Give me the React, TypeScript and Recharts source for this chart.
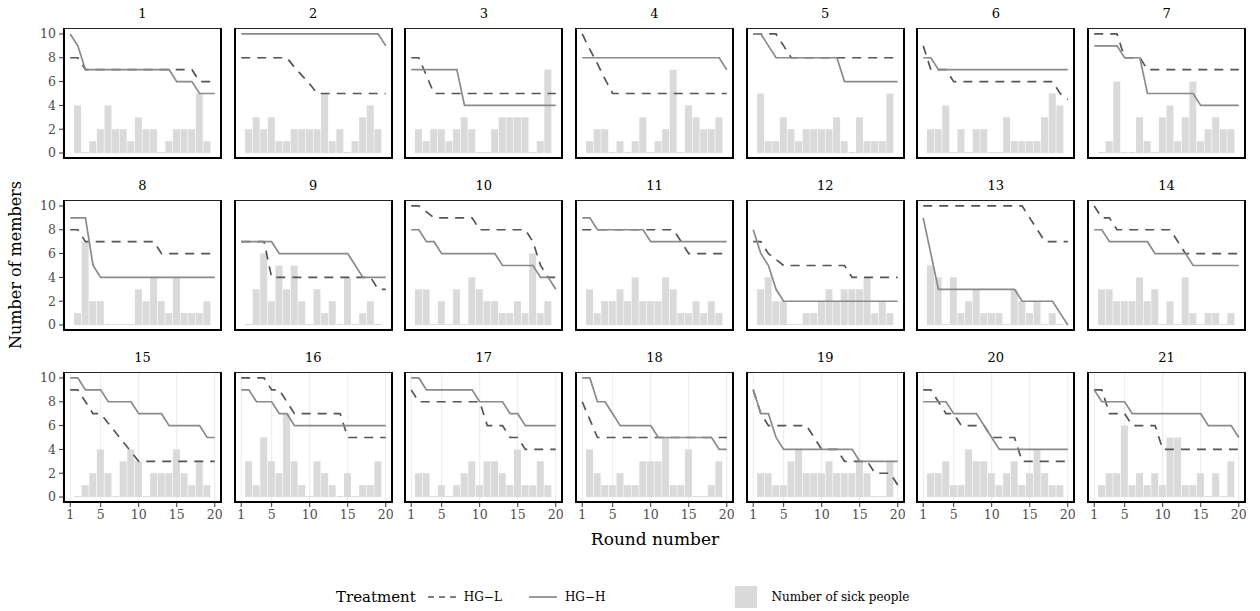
import React from 'react'
import { ComposedChart, Bar, Line, XAxis, YAxis, CartesianGrid } from 'recharts'

const FONT = '"DejaVu Serif", "Liberation Serif", serif'

const groups = ['1', '2', '3', '4', '5', '6', '7', '8', '9', '10', '11', '12', '13', '14', '15', '16', '17', '18', '19', '20', '21']
const rounds = [1, 2, 3, 4, 5, 6, 7, 8, 9, 10, 11, 12, 13, 14, 15, 16, 17, 18, 19, 20]
const xTicks = [1, 5, 10, 15, 20]
const yTicks = [0, 2, 4, 6, 8, 10]
const seriesNames = ['HG\u2212L', 'HG\u2212H']
const barName = 'Number of sick people'

// HG-L treatment (dashed), rounds 1-20
const hgLow: number[][] = [
  [8, 8, 7, 7, 7, 7, 7, 7, 7, 7, 7, 7, 7, 7, 7, 7, 7, 6, 6, 6],
  [8, 8, 8, 8, 8, 8, 8, 7.2, 6.5, 5.8, 5, 5, 5, 5, 5, 5, 5, 5, 5, 5],
  [8, 8, 6.5, 5, 5, 5, 5, 5, 5, 5, 5, 5, 5, 5, 5, 5, 5, 5, 5, 5],
  [10, 8.7, 7.5, 6.2, 5, 5, 5, 5, 5, 5, 5, 5, 5, 5, 5, 5, 5, 5, 5, 5],
  [10, 10, 10, 10, 9, 8, 8, 8, 8, 8, 8, 8, 8, 8, 8, 8, 8, 8, 8, 8],
  [9, 7, 7, 7, 6, 6, 6, 6, 6, 6, 6, 6, 6, 6, 6, 6, 6, 6, 5, 4.5],
  [10, 10, 10, 10, 8, 8, 8, 7, 7, 7, 7, 7, 7, 7, 7, 7, 7, 7, 7, 7],
  [8, 8, 7, 7, 7, 7, 7, 7, 7, 7, 7, 7, 6, 6, 6, 6, 6, 6, 6, 6],
  [7, 7, 7, 7, 4, 4, 4, 4, 4, 4, 4, 4, 4, 4, 4, 4, 4, 4, 3, 3],
  [10, 10, 9.5, 9, 9, 9, 9, 9, 9, 8, 8, 8, 8, 8, 8, 8, 7, 5, 4, 4],
  [8, 8, 8, 8, 8, 8, 8, 8, 8, 8, 8, 8, 8, 7, 6, 6, 6, 6, 6, 6],
  [7, 7, 6, 5.5, 5, 5, 5, 5, 5, 5, 5, 5, 5, 4, 4, 4, 4, 4, 4, 4],
  [10, 10, 10, 10, 10, 10, 10, 10, 10, 10, 10, 10, 10, 10, 9, 8, 7, 7, 7, 7],
  [10, 9, 9, 8, 8, 8, 8, 8, 8, 8, 8, 7, 6, 6, 6, 6, 6, 6, 6, 6],
  [9, 9, 8, 7, 7, 6.2, 5.4, 4.6, 3.8, 3, 3, 3, 3, 3, 3, 3, 3, 3, 3, 3],
  [10, 10, 10, 10, 9, 9, 8, 7, 7, 7, 7, 7, 7, 7, 5, 5, 5, 5, 5, 5],
  [9, 8, 8, 8, 8, 8, 8, 8, 8, 8, 6, 6, 6, 5, 5, 4, 4, 4, 4, 4],
  [8, 6.5, 5, 5, 5, 5, 5, 5, 5, 5, 5, 5, 5, 5, 5, 5, 5, 5, 5, 5],
  [9, 7, 6, 6, 6, 6, 6, 6, 5, 4, 4, 4, 3, 3, 3, 3, 2, 2, 2, 1],
  [9, 9, 8, 7, 7, 6, 6, 6, 6, 5, 5, 5, 5, 3, 3, 3, 3, 3, 3, 3],
  [9, 9, 7, 7, 7, 6, 6, 6, 6, 4, 4, 4, 4, 4, 4, 4, 4, 4, 4, 4],
]

// HG-H treatment (solid), rounds 1-20
const hgHigh: number[][] = [
  [10, 9, 7, 7, 7, 7, 7, 7, 7, 7, 7, 7, 7, 7, 6, 6, 6, 5, 5, 5],
  [10, 10, 10, 10, 10, 10, 10, 10, 10, 10, 10, 10, 10, 10, 10, 10, 10, 10, 10, 9],
  [7, 7, 7, 7, 7, 7, 7, 4, 4, 4, 4, 4, 4, 4, 4, 4, 4, 4, 4, 4],
  [8, 8, 8, 8, 8, 8, 8, 8, 8, 8, 8, 8, 8, 8, 8, 8, 8, 8, 8, 7],
  [10, 10, 9, 8, 8, 8, 8, 8, 8, 8, 8, 8, 6, 6, 6, 6, 6, 6, 6, 6],
  [8, 8, 7, 7, 7, 7, 7, 7, 7, 7, 7, 7, 7, 7, 7, 7, 7, 7, 7, 7],
  [9, 9, 9, 9, 8, 8, 8, 5, 5, 5, 5, 5, 5, 5, 4, 4, 4, 4, 4, 4],
  [9, 9, 9, 5, 4, 4, 4, 4, 4, 4, 4, 4, 4, 4, 4, 4, 4, 4, 4, 4],
  [7, 7, 7, 7, 7, 6, 6, 6, 6, 6, 6, 6, 6, 6, 6, 5, 4, 4, 4, 4],
  [8, 8, 7, 7, 6, 6, 6, 6, 6, 6, 6, 6, 5, 5, 5, 5, 5, 4, 4, 3],
  [9, 9, 8, 8, 8, 8, 8, 8, 8, 7, 7, 7, 7, 7, 7, 7, 7, 7, 7, 7],
  [8, 6, 5, 3, 2, 2, 2, 2, 2, 2, 2, 2, 2, 2, 2, 2, 2, 2, 2, 2],
  [9, 6, 3, 3, 3, 3, 3, 3, 3, 3, 3, 3, 3, 2, 2, 2, 2, 2, 1, 0],
  [8, 8, 7, 7, 7, 7, 7, 7, 6, 6, 6, 6, 6, 5, 5, 5, 5, 5, 5, 5],
  [10, 10, 9, 9, 9, 8, 8, 8, 8, 7, 7, 7, 7, 6, 6, 6, 6, 6, 5, 5],
  [9, 9, 8, 8, 8, 7, 7, 6, 6, 6, 6, 6, 6, 6, 6, 6, 6, 6, 6, 6],
  [10, 10, 9, 9, 9, 9, 9, 9, 9, 8, 8, 8, 8, 7, 7, 6, 6, 6, 6, 6],
  [10, 10, 8, 8, 7, 6, 6, 6, 6, 6, 5, 5, 5, 5, 5, 5, 5, 5, 4, 4],
  [9, 7, 7, 5, 4, 4, 4, 4, 4, 4, 4, 4, 4, 4, 3, 3, 3, 3, 3, 3],
  [8, 8, 8, 8, 7, 7, 7, 7, 6, 5, 4, 4, 4, 4, 4, 4, 4, 4, 4, 4],
  [9, 8, 8, 8, 8, 7, 7, 7, 7, 7, 7, 7, 7, 7, 7, 6, 6, 6, 6, 5],
]

// number of sick people, rounds 2-19
const sickPeople: number[][] = [
  [4, 0, 1, 2, 4, 2, 2, 1, 3, 2, 2, 0, 1, 2, 2, 2, 5, 1],
  [2, 3, 2, 3, 1, 1, 2, 2, 2, 2, 5, 1, 2, 0, 1, 3, 4, 2],
  [2, 1, 2, 2, 1, 2, 3, 2, 0, 0, 2, 3, 3, 3, 3, 0, 1, 7],
  [1, 2, 2, 0, 1, 0, 1, 3, 0, 1, 2, 7, 0, 4, 3, 2, 2, 3],
  [5, 1, 1, 3, 2, 1, 2, 2, 2, 2, 3, 1, 0, 3, 1, 1, 1, 5],
  [2, 2, 4, 0, 2, 0, 2, 2, 0, 0, 3, 1, 1, 1, 1, 3, 5, 4],
  [0, 1, 6, 0, 0, 3, 1, 0, 3, 4, 1, 3, 6, 1, 2, 3, 2, 2],
  [1, 7, 2, 2, 0, 0, 0, 0, 3, 2, 4, 2, 1, 4, 1, 1, 1, 2],
  [0, 3, 6, 2, 5, 3, 5, 2, 0, 3, 1, 2, 0, 4, 0, 1, 2, 0],
  [3, 3, 0, 2, 0, 3, 0, 4, 3, 2, 2, 1, 1, 2, 1, 6, 1, 2],
  [3, 1, 2, 2, 3, 2, 4, 2, 2, 2, 4, 3, 1, 1, 2, 1, 2, 1],
  [3, 4, 2, 2, 0, 0, 1, 1, 2, 3, 2, 3, 3, 3, 4, 1, 2, 1],
  [5, 4, 0, 4, 1, 2, 3, 1, 1, 1, 0, 3, 2, 1, 2, 0, 1, 0],
  [3, 3, 2, 2, 2, 4, 2, 3, 0, 2, 0, 4, 1, 0, 1, 1, 0, 1],
  [0, 1, 2, 4, 2, 0, 3, 4, 3, 0, 2, 2, 2, 4, 2, 1, 3, 1],
  [3, 1, 5, 3, 2, 7, 3, 1, 0, 3, 2, 1, 0, 2, 0, 1, 1, 3],
  [2, 2, 0, 1, 0, 1, 2, 3, 1, 3, 3, 2, 1, 4, 1, 1, 3, 1],
  [4, 2, 1, 1, 2, 1, 1, 3, 3, 3, 5, 1, 1, 4, 0, 0, 1, 3],
  [2, 2, 1, 1, 3, 4, 2, 2, 2, 3, 2, 2, 2, 3, 2, 0, 0, 3],
  [2, 2, 3, 1, 1, 4, 3, 3, 2, 1, 2, 3, 1, 2, 4, 2, 1, 1],
  [1, 2, 2, 6, 1, 2, 1, 2, 1, 5, 5, 1, 1, 2, 0, 2, 0, 3],
]

const COLS = 7
const BOX_W = 159
const BOX_H = 131
const PITCH_X = 170.67
const PITCH_Y = 172
const LEFT0 = 63
const TOP0 = 28
const Y_AXIS_W = 46
const X_AXIS_H = 24
const PAD = 8 // room above the plot for the top tick label

const SOLID = '#8a8a8a'
const DASHED = '#555555'
const BAR = '#dadada'
const DASH = '9 7'

const tickStyle = { fontSize: 12.5, fill: '#4d4d4d', fontFamily: FONT }

function Panel({ index }: { index: number }) {
  const col = index % COLS
  const row = Math.floor(index / COLS)
  const firstCol = col === 0
  const lastRow = row === 2
  const data = rounds.map((r, i) => ({
    round: r,
    low: hgLow[index][i],
    high: hgHigh[index][i],
    sick: i >= 1 && i <= 18 ? sickPeople[index][i - 1] : null,
  }))
  const boxLeft = LEFT0 + col * PITCH_X
  const boxTop = TOP0 + row * PITCH_Y
  const w = BOX_W + (firstCol ? Y_AXIS_W : 0)
  const h = BOX_H + PAD + (lastRow ? X_AXIS_H : 0)

  return (
    <>
      <div
        style={{
          position: 'absolute',
          left: boxLeft,
          top: boxTop - 24,
          width: BOX_W,
          textAlign: 'center',
          fontSize: 13,
          color: '#000',
          lineHeight: '20px',
        }}
      >
        {groups[index]}
      </div>
      <div style={{ position: 'absolute', left: boxLeft - (firstCol ? Y_AXIS_W : 0), top: boxTop - PAD, width: w, height: h }}>
        <ComposedChart width={w} height={h} data={data} margin={{ top: PAD, right: 0, bottom: 0, left: 0 }}>
          <CartesianGrid horizontal={false} stroke="#ebebeb" strokeWidth={1} />
          <XAxis
            dataKey="round"
            type="number"
            domain={[0.05, 20.95]}
            ticks={xTicks}
            interval={0}
            allowDataOverflow
            height={lastRow ? X_AXIS_H : 0}
            tick={lastRow ? tickStyle : false}
            tickLine={lastRow ? { stroke: '#333' } : false}
            tickSize={4}
            tickMargin={3}
            axisLine={false}
          />
          <YAxis
            type="number"
            domain={[-0.5, 10.5]}
            ticks={yTicks}
            interval={0}
            allowDataOverflow
            width={firstCol ? Y_AXIS_W : 0}
            tick={firstCol ? tickStyle : false}
            tickLine={firstCol ? { stroke: '#333' } : false}
            tickSize={4}
            tickMargin={3}
            axisLine={false}
          />
          <Bar
            dataKey="sick"
            fill={BAR}
            barSize={7}
            isAnimationActive={false}
            minPointSize={(v: any) => (v === 0 ? 1 : 0)}
          />
          <Line
            dataKey="low"
            type="linear"
            stroke={DASHED}
            strokeWidth={1.7}
            strokeDasharray={DASH}
            dot={false}
            activeDot={false}
            isAnimationActive={false}
          />
          <Line
            dataKey="high"
            type="linear"
            stroke={SOLID}
            strokeWidth={1.7}
            dot={false}
            activeDot={false}
            isAnimationActive={false}
          />
        </ComposedChart>
      </div>
      <div
        style={{
          position: 'absolute',
          left: boxLeft,
          top: boxTop,
          width: BOX_W,
          height: BOX_H,
          boxSizing: 'border-box',
          borderTop: '1px solid #222',
          borderLeft: '2px solid #000',
          borderRight: '2px solid #000',
          borderBottom: '2px solid #000',
          pointerEvents: 'none',
        }}
      />
    </>
  )
}

function LegendKey({ dashed }: { dashed: boolean }) {
  return (
    <svg width={32} height={20} style={{ display: 'block' }}>
      <line
        x1={2}
        x2={30}
        y1={10}
        y2={10}
        stroke={dashed ? DASHED : SOLID}
        strokeWidth={1.7}
        strokeDasharray={dashed ? '6 5' : undefined}
      />
    </svg>
  )
}

export default function App() {
  return (
    <div
      style={{
        position: 'absolute',
        left: 0,
        top: 0,
        width: 1260,
        height: 611,
        background: '#fff',
        fontFamily: FONT,
        overflow: 'hidden',
      }}
    >
      {groups.map((g, i) => (
        <Panel key={g} index={i} />
      ))}

      <div
        style={{
          position: 'absolute',
          left: 15,
          top: 265,
          transform: 'translate(-50%, -50%) rotate(-90deg)',
          fontSize: 16,
          color: '#000',
          whiteSpace: 'nowrap',
        }}
      >
        Number of members
      </div>
      <div
        style={{
          position: 'absolute',
          left: 655,
          top: 539,
          transform: 'translate(-50%, -50%)',
          fontSize: 17,
          color: '#000',
          whiteSpace: 'nowrap',
        }}
      >
        Round number
      </div>

      <div
        style={{
          position: 'absolute',
          left: 336,
          top: 586,
          height: 22,
          display: 'flex',
          alignItems: 'center',
          fontSize: 12,
          color: '#000',
          whiteSpace: 'nowrap',
        }}
      >
        <span style={{ fontSize: 15, marginRight: 10 }}>Treatment</span>
        <LegendKey dashed />
        <span style={{ marginLeft: 6, marginRight: 25 }}>{seriesNames[0]}</span>
        <LegendKey dashed={false} />
        <span style={{ marginLeft: 6 }}>{seriesNames[1]}</span>
        <span style={{ display: 'inline-block', width: 22, height: 22, background: BAR, marginLeft: 130 }} />
        <span style={{ marginLeft: 14 }}>{barName}</span>
      </div>
    </div>
  )
}
